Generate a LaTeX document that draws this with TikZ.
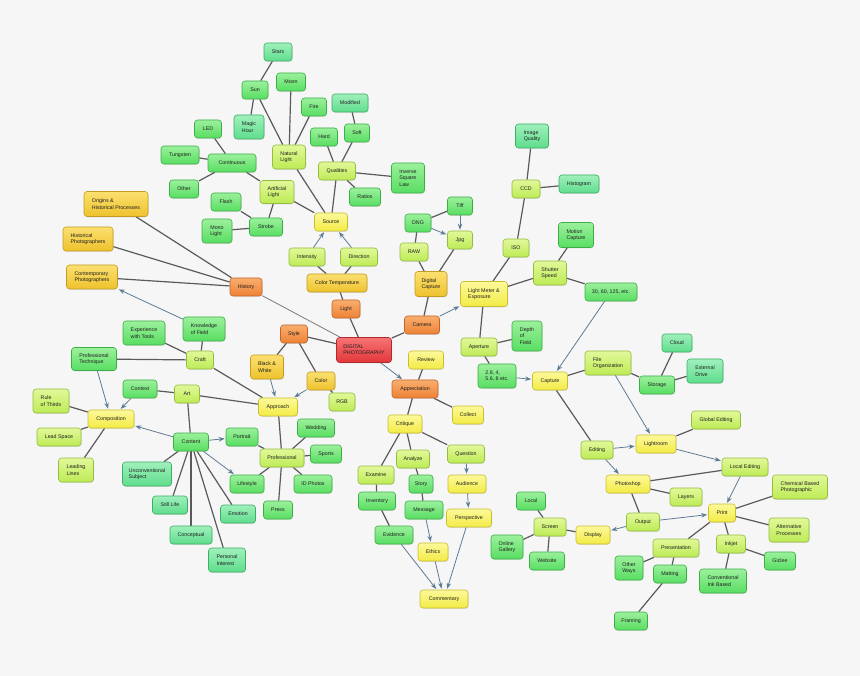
\documentclass[tikz,border=0pt]{standalone}
\usepackage{fontspec}
\newfontfamily\lsans{Liberation Sans}
\usetikzlibrary{arrows.meta,shadows,backgrounds}
\definecolor{bgc}{HTML}{F6F6F6}
\definecolor{txt}{HTML}{1E1E1E}
\definecolor{lnc}{HTML}{5A5A5A}
\definecolor{arc}{HTML}{5E7B94}
\definecolor{reL}{HTML}{F77474}\definecolor{re}{HTML}{E3363A}\definecolor{reD}{HTML}{B02A2C}
\definecolor{orL}{HTML}{F9AE6E}\definecolor{or}{HTML}{EE8236}\definecolor{orD}{HTML}{C0652A}
\definecolor{goL}{HTML}{FBE070}\definecolor{go}{HTML}{EEC22C}\definecolor{goD}{HTML}{C49C22}
\definecolor{yeL}{HTML}{FCF99A}\definecolor{ye}{HTML}{F3EB45}\definecolor{yeD}{HTML}{C8BE32}
\definecolor{liL}{HTML}{E2F89A}\definecolor{li}{HTML}{BDEB55}\definecolor{liD}{HTML}{94BC40}
\definecolor{grL}{HTML}{9CF09C}\definecolor{gr}{HTML}{58DE62}\definecolor{grD}{HTML}{3DAE47}
\definecolor{miL}{HTML}{A0F0BC}\definecolor{mi}{HTML}{5EDD8C}\definecolor{miD}{HTML}{3DAE66}
\newcommand\nodefont{\lsans\fontsize{5.3pt}{6.3pt}\selectfont}
\tikzset{
  box/.style={rounded corners=3pt, line width=0.6pt, align=left, inner xsep=3pt, inner ysep=2pt,
    font=\nodefont, text=txt, minimum height=18pt,
    drop shadow={shadow xshift=0.5pt, shadow yshift=-0.8pt, opacity=0.2}},
  nd/.style={box, top color=#1L, bottom color=#1, draw=#1D},
  bw/.style={minimum width=#1pt},
  bh/.style={minimum height=#1pt},
  ln/.style={line width=1.2pt, draw=lnc},
  lnthin/.style={line width=0.8pt, draw=lnc!80},
  ar/.style={line width=0.8pt, draw=arc, -{Stealth[length=6pt,width=4.5pt]}, shorten >=1pt}
}
\begin{document}
\begin{tikzpicture}[x=1pt,y=-1pt]
\useasboundingbox (0,0) rectangle (860,676);
% light cluster
\node[nd=mi,bw=28] (stars) at (278,52) {Stars};
\node[nd=gr,bw=26] (sun) at (255,90) {Sun};
\node[nd=gr,bw=29] (moon) at (291,82) {Moon};
\node[nd=mi,bw=30,bh=24] (magic) at (249,127) {Magic\\Hour};
\node[nd=gr,bw=25] (fire) at (314,107) {Fire};
\node[nd=mi,bw=36] (modif) at (350,103) {Modified};
\node[nd=gr,bw=27] (hard) at (324,137) {Hard};
\node[nd=gr,bw=25] (soft) at (357,133) {Soft};
\node[nd=li,bw=33,bh=24] (natl) at (289,157) {Natural\\Light};
\node[nd=li,bw=37] (qual) at (337,171) {Qualities};
\node[nd=gr,bw=33,bh=30] (isl) at (408,178) {Inverse\\Square\\Law};
\node[nd=gr,bw=31] (ratios) at (365,197) {Ratios};
\node[nd=li,bw=34,bh=23] (artl) at (277,192) {Artificial\\Light};
\node[nd=gr,bw=48] (cont) at (232,163) {Continuous};
\node[nd=gr,bw=27] (led) at (208,129) {LED};
\node[nd=gr,bw=38] (tung) at (180,155) {Tungsten};
\node[nd=gr,bw=29] (other) at (184,189) {Other};
\node[nd=gr,bw=30] (flash) at (226,202) {Flash};
\node[nd=gr,bw=30,bh=24] (mono) at (217,231) {Mono\\Light};
\node[nd=gr,bw=33] (strobe) at (266,227) {Strobe};
\node[nd=ye,bw=33] (source) at (331,222) {Source};
\node[nd=li,bw=36] (intens) at (307,257) {Intensity};
\node[nd=li,bw=37] (direc) at (359,257) {Direction};
\node[nd=go,bw=60] (ctemp) at (337,283) {Color Temperature};
\node[nd=or,bw=28] (light) at (346,309) {Light};
\node[nd=re,bw=55,bh=25] (dp) at (364,350) {DIGITAL\\PHOTOGRAPHY};
% history / approach cluster
\node[nd=or,bw=32] (hist) at (246,287) {History};
\node[nd=go,bw=64,bh=25] (orig) at (116,204) {Origins \&\\Historical Processes};
\node[nd=go,bw=50,bh=24] (histph) at (88,239) {Historical\\Photographers};
\node[nd=go,bw=51,bh=24] (contph) at (92,277) {Contemporary\\Photographers};
\node[nd=gr,bw=42,bh=24] (know) at (204,329) {Knowledge\\of Field};
\node[nd=gr,bw=42,bh=24] (exper) at (144,333) {Experience\\with Tools};
\node[nd=li,bw=27] (craft) at (200,360) {Craft};
\node[nd=gr,bw=45,bh=23] (proft) at (94,359) {Professional\\Technique};
\node[nd=gr,bw=34] (context) at (140,389) {Context};
\node[nd=li,bw=25] (art) at (187,394) {Art};
\node[nd=li,bw=36,bh=24] (rule) at (51,401) {Rule\\of Thirds};
\node[nd=ye,bw=46] (comp) at (111,419) {Composition};
\node[nd=li,bw=44] (lead) at (59,437) {Lead Space};
\node[nd=gr,bw=35] (content) at (191,442) {Content};
\node[nd=li,bw=35,bh=24] (leading) at (76,470) {Leading\\Lines};
\node[nd=mi,bw=49,bh=24] (uncon) at (147,474) {Unconventional\\Subject};
\node[nd=mi,bw=35] (still) at (170,505) {Still Life};
\node[nd=mi,bw=42] (concept) at (191,535) {Conceptual};
\node[nd=mi,bw=37,bh=24] (personal) at (227,560) {Personal\\Interest};
\node[nd=mi,bw=35] (emotion) at (238,514) {Emotion};
\node[nd=gr,bw=34] (lifest) at (247,484) {Lifestyle};
\node[nd=gr,bw=29] (press) at (278,510) {Press};
\node[nd=gr,bw=38] (idph) at (313,484) {ID Photos};
\node[nd=li,bw=44] (prof) at (282,458) {Professional};
\node[nd=gr,bw=31] (sports) at (326,454) {Sports};
\node[nd=gr,bw=37] (wedding) at (316,428) {Wedding};
\node[nd=gr,bw=32] (portrait) at (242,437) {Portrait};
\node[nd=ye,bw=39] (approach) at (278,407) {Approach};
\node[nd=or,bw=27] (style) at (294,334) {Style};
\node[nd=go,bw=33,bh=24] (bwn) at (267,367) {Black \&\\White};
\node[nd=go,bw=28] (color) at (321,381) {Color};
\node[nd=li,bw=26] (rgb) at (342,402) {RGB};
% camera cluster
\node[nd=or,bw=35] (camera) at (422,325) {Camera};
\node[nd=go,bw=32,bh=25] (dcap) at (431,284) {Digital\\Capture};
\node[nd=li,bw=28] (raw) at (414,252) {RAW};
\node[nd=gr,bw=26] (dng) at (418,223) {DNG};
\node[nd=gr,bw=25] (tiff) at (460,206) {Tiff};
\node[nd=li,bw=25] (jpg) at (460,240) {Jpg};
\node[nd=ye,bw=47,bh=25] (lme) at (484,294) {Light Meter \&\\Exposure};
\node[nd=li,bw=26] (iso) at (516,248) {ISO};
\node[nd=li,bw=28] (ccd) at (526,189) {CCD};
\node[nd=mi,bw=33,bh=24] (iq) at (532,136) {Image\\Quality};
\node[nd=mi,bw=40] (histo) at (579,184) {Histogram};
\node[nd=li,bw=33,bh=24] (shutter) at (550,273) {Shutter\\Speed};
\node[nd=gr,bw=35,bh=25] (motion) at (576,235) {Motion\\Capture};
\node[nd=gr,bw=52] (speeds) at (611,292) {30, 60, 125, etc.};
\node[nd=li,bw=36] (aperture) at (479,347) {Aperture};
\node[nd=gr,bw=30,bh=30] (dof) at (527,336) {Depth\\of\\Field};
\node[nd=gr,bw=38,bh=24] (fstops) at (497,376) {2.8, 4,\\5.6, 8 etc.};
\node[nd=ye,bw=35] (capture) at (550,381) {Capture};
\node[nd=li,bw=46,bh=24] (fileorg) at (608,363) {File\\Organization};
\node[nd=gr,bw=35] (storage) at (657,385) {Storage};
\node[nd=mi,bw=30] (cloud) at (677,343) {Cloud};
\node[nd=mi,bw=36,bh=24] (extdr) at (705,371) {External\\Drive};
\node[nd=li,bw=32] (editing) at (597,450) {Editing};
\node[nd=ye,bw=40] (lightroom) at (656,444) {Lightroom};
\node[nd=li,bw=49] (global) at (716,420) {Global Editing};
\node[nd=ye,bw=44] (photoshop) at (628,484) {Photoshop};
\node[nd=li,bw=46] (localed) at (745,467) {Local Editing};
\node[nd=li,bw=32] (layers) at (686,497) {Layers};
\node[nd=li,bw=33] (output) at (643,522) {Output};
\node[nd=ye,bw=27] (print) at (722,513) {Print};
\node[nd=li,bw=55,bh=24] (chem) at (800,487) {Chemical Based\\Photographic};
\node[nd=li,bw=40,bh=24] (alt) at (789,530) {Alternative\\Processes};
\node[nd=li,bw=46] (present) at (676,548) {Presentation};
\node[nd=li,bw=29] (inkjet) at (731,544) {Inkjet};
\node[nd=gr,bw=31] (giclee) at (780,561) {Giclee};
\node[nd=gr,bw=33] (matting) at (670,574) {Matting};
\node[nd=gr,bw=47,bh=24] (conv) at (723,581) {Conventional\\Ink Based};
\node[nd=gr,bw=28,bh=24] (otherw) at (629,568) {Other\\Ways};
\node[nd=gr,bw=33] (framing) at (631,621) {Framing};
\node[nd=ye,bw=34] (display) at (593,535) {Display};
\node[nd=li,bw=32] (screen) at (550,527) {Screen};
\node[nd=gr,bw=29] (local) at (531,501) {Local};
\node[nd=gr,bw=32,bh=24] (online) at (507,547) {Online\\Gallery};
\node[nd=gr,bw=35] (website) at (547,561) {Website};
% appreciation cluster
\node[nd=ye,bw=35] (review) at (426,360) {Review};
\node[nd=or,bw=46] (appr) at (415,389) {Appreciation};
\node[nd=ye,bw=31] (collect) at (468,415) {Collect};
\node[nd=ye,bw=34] (critique) at (405,424) {Critique};
\node[nd=li,bw=36] (examine) at (376,475) {Examine};
\node[nd=li,bw=33] (analyze) at (413,459) {Analyze};
\node[nd=li,bw=37] (question) at (466,454) {Question};
\node[nd=gr,bw=24] (story) at (421,484) {Story};
\node[nd=gr,bw=37] (inventory) at (377,501) {Inventory};
\node[nd=gr,bw=38] (message) at (424,510) {Message};
\node[nd=gr,bw=38] (evidence) at (394,535) {Evidence};
\node[nd=ye,bw=30] (ethics) at (433,552) {Ethics};
\node[nd=ye,bw=38] (audience) at (467,484) {Audience};
\node[nd=ye,bw=45] (persp) at (469,518) {Perspective};
\node[nd=ye,bw=48] (comment) at (444,599) {Commentary};
\begin{scope}[on background layer]
\fill[bgc] (0,0) rectangle (860,676);
\foreach \a/\b in {stars/sun, sun/magic, sun/natl, moon/natl, fire/natl, natl/source,
  modif/soft, hard/qual, soft/qual, qual/isl, qual/ratios, qual/source,
  led/cont, tung/cont, other/cont, cont/artl, artl/strobe, flash/strobe, mono/strobe, artl/source,
  ctemp/intens, ctemp/direc, ctemp/light, light/dp,
  hist/orig, hist/histph, hist/contph,
  style/dp, style/bwn, style/color, color/rgb, craft/approach, art/approach, approach/prof,
  prof/wedding, prof/sports, prof/lifest, prof/idph, prof/press, portrait/prof,
  content/emotion, content/personal, content/concept, content/still, content/uncon, content/art,
  rule/comp, lead/comp, leading/comp, context/art, proft/craft, exper/craft, know/craft,
  dng/tiff, raw/dng, raw/dcap, jpg/dcap, dcap/camera, camera/dp,
  lme/iso, iso/ccd, ccd/iq, ccd/histo, lme/shutter, shutter/motion, shutter/speeds,
  lme/aperture, aperture/dof, aperture/fstops,
  capture/fileorg, fileorg/storage, storage/cloud, storage/extdr, capture/editing,
  lightroom/global, photoshop/localed, photoshop/layers, photoshop/output,
  print/chem, print/alt, print/inkjet, print/present, inkjet/giclee, inkjet/conv,
  present/matting, present/otherw, matting/framing,
  display/screen, screen/local, screen/online, screen/website,
  appr/review, appr/collect, appr/critique, critique/examine, critique/analyze, critique/question,
  examine/inventory, inventory/evidence, analyze/story, story/message}
  \draw[ln] (\a) -- (\b);
\draw[lnthin] (hist) -- (dp);
\foreach \a/\b in {intens/source, direc/source, bwn/approach, color/approach,
  content/portrait, content/lifest, content/comp, proft/comp, context/comp, know/contph,
  dng/jpg, tiff/jpg, camera/lme, speeds/capture, fstops/capture,
  fileorg/lightroom, editing/lightroom, editing/photoshop, lightroom/localed,
  output/display, output/print, localed/print, dp/appr,
  message/ethics, question/audience, audience/persp, persp/comment, ethics/comment, evidence/comment}
  \draw[ar] (\a) -- (\b);
\end{scope}
\end{tikzpicture}
\end{document}
